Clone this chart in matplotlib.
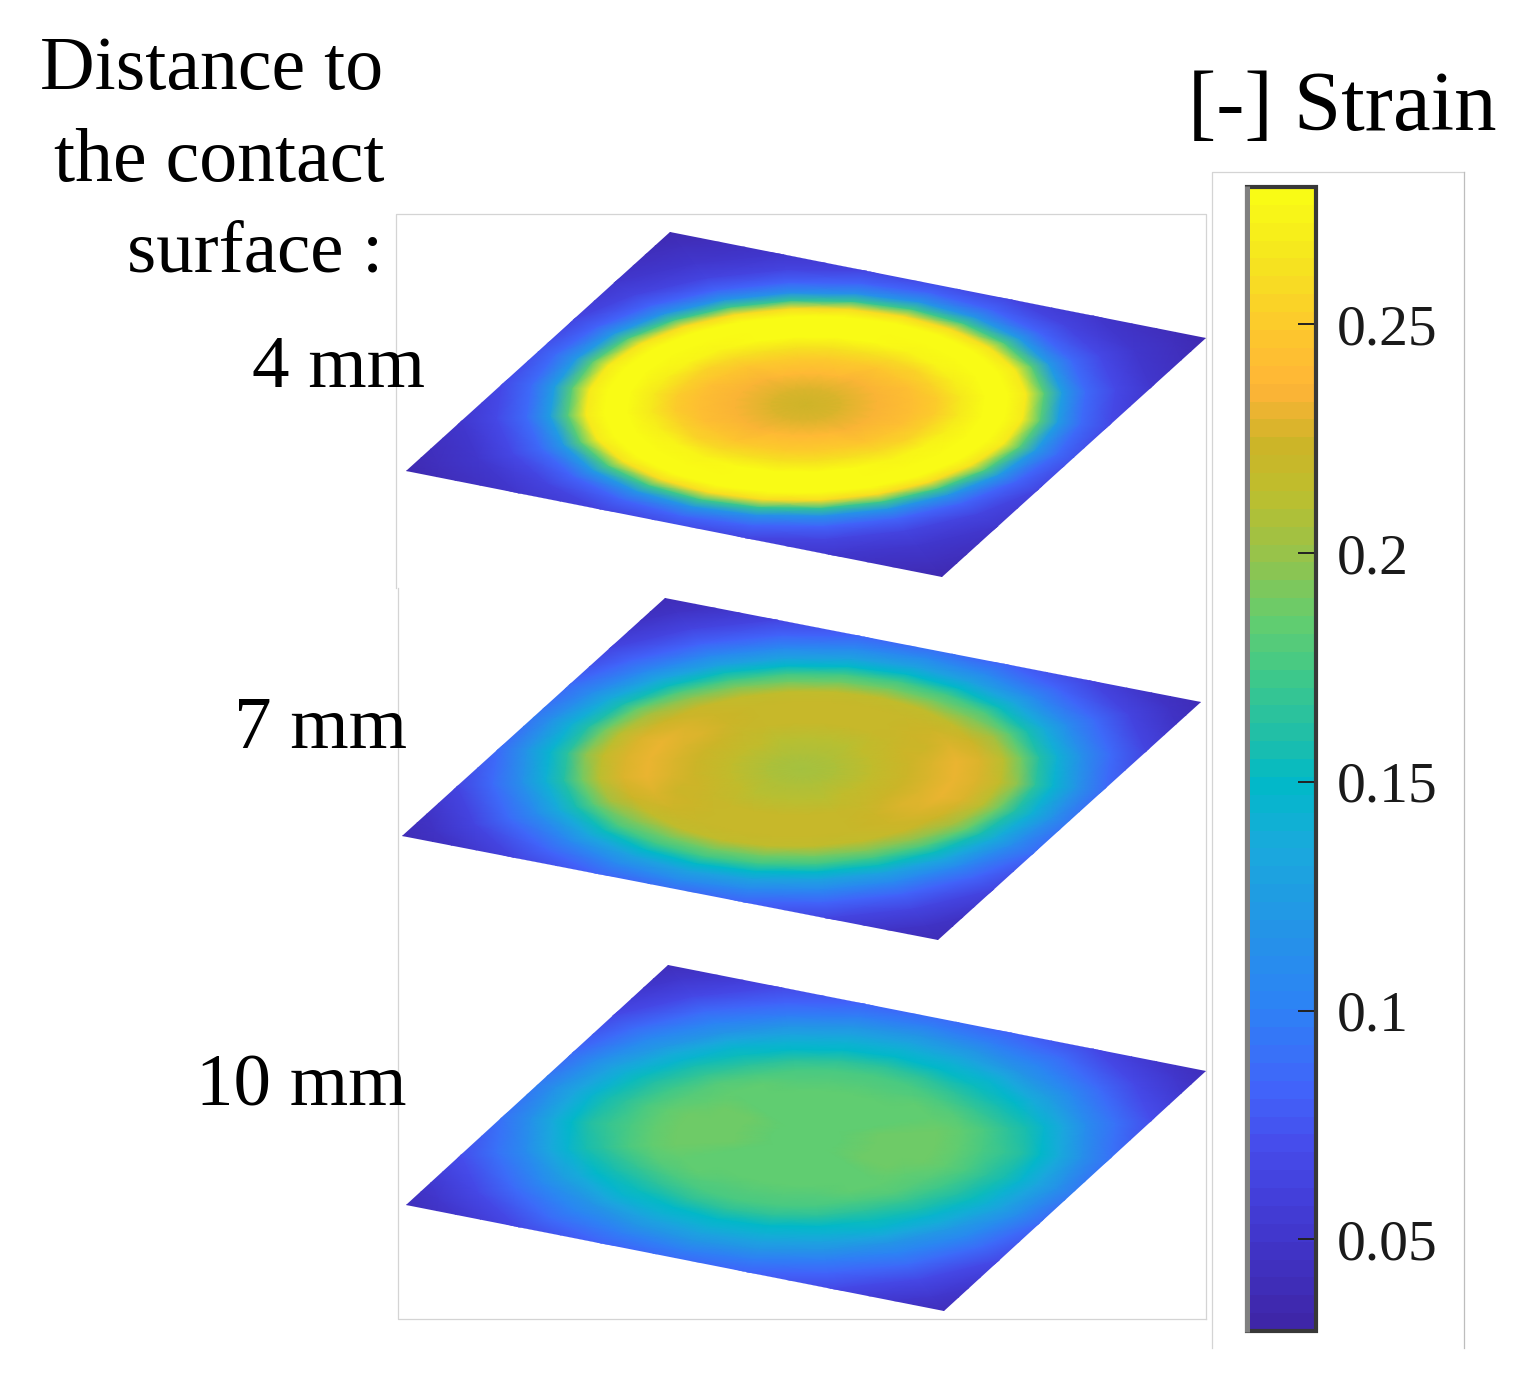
"""Three strain slices in oblique view, shared colour bar."""
import numpy as np
import matplotlib
matplotlib.use("Agg")
import matplotlib.pyplot as plt
from matplotlib.cm import ScalarMappable
from matplotlib.colors import LinearSegmentedColormap, Normalize
from matplotlib.lines import Line2D
from matplotlib.patches import Polygon

plt.rcParams["font.family"] = ["Liberation Serif", "DejaVu Serif"]

# strain: rows = distance from slice centre,
# columns = direction over half a turn (the slices are point symmetric)
RADII = [0, .06, .12, .18, .22, .26, .30, .34, .37, .40, .43, .47, .52, .58, .65, .75]
ANGLES = [-15, 0, 15, 30, 45, 60, 75, 90, 105, 120, 135, 150]

STRAIN_4MM = [
    [.224, .224, .224, .224, .224, .224, .224, .224, .224, .224, .224, .224],
    [.226, .226, .226, .226, .226, .226, .226, .226, .226, .226, .226, .226],
    [.234, .234, .236, .237, .238, .238, .238, .238, .237, .236, .234, .234],
    [.243, .244, .246, .248, .249, .250, .250, .249, .248, .246, .244, .243],
    [.252, .253, .256, .259, .261, .262, .262, .261, .259, .256, .253, .252],
    [.268, .269, .273, .276, .279, .280, .280, .279, .276, .273, .269, .268],
    [.284, .284, .286, .287, .288, .288, .288, .288, .287, .286, .284, .284],
    [.288, .288, .287, .287, .286, .286, .286, .286, .287, .287, .288, .288],
    [.266, .265, .263, .260, .259, .258, .258, .259, .260, .263, .265, .266],
    [.182, .181, .177, .174, .171, .170, .170, .171, .174, .177, .181, .182],
    [.124, .123, .120, .118, .116, .115, .115, .116, .118, .120, .123, .124],
    [.086, .086, .084, .083, .082, .082, .082, .082, .083, .084, .086, .086],
    [.066, .066, .065, .065, .064, .064, .064, .064, .065, .065, .066, .066],
    [.052, .052, .052, .052, .052, .052, .052, .052, .052, .052, .052, .052],
    [.042, .042, .042, .042, .042, .042, .042, .042, .042, .042, .042, .042],
    [.032, .032, .032, .032, .032, .032, .032, .032, .032, .032, .032, .032],
]
STRAIN_7MM = [
    [.205, .205, .205, .205, .205, .205, .205, .205, .205, .205, .205, .205],
    [.208, .208, .208, .207, .207, .207, .207, .207, .207, .207, .208, .208],
    [.216, .216, .215, .214, .213, .213, .213, .213, .213, .214, .215, .216],
    [.224, .223, .222, .220, .218, .218, .218, .218, .218, .219, .222, .223],
    [.229, .228, .226, .223, .221, .221, .221, .221, .221, .222, .225, .228],
    [.231, .230, .227, .224, .221, .221, .221, .221, .221, .222, .226, .230],
    [.229, .228, .223, .218, .215, .215, .215, .215, .215, .217, .222, .228],
    [.216, .212, .205, .196, .191, .190, .190, .190, .190, .194, .203, .212],
    [.195, .190, .183, .177, .173, .172, .172, .172, .172, .175, .181, .190],
    [.165, .162, .158, .154, .152, .151, .151, .151, .151, .153, .157, .162],
    [.144, .141, .137, .134, .131, .130, .130, .130, .130, .132, .136, .141],
    [.117, .115, .112, .108, .106, .105, .105, .105, .105, .107, .111, .115],
    [.088, .087, .085, .083, .082, .082, .082, .082, .082, .083, .085, .087],
    [.066, .065, .064, .063, .062, .062, .062, .062, .062, .062, .064, .065],
    [.049, .049, .048, .047, .047, .047, .047, .047, .047, .047, .048, .049],
    [.035, .035, .035, .035, .035, .035, .035, .035, .035, .035, .035, .035],
]
STRAIN_10MM = [
    [.184, .184, .184, .184, .184, .184, .184, .184, .184, .184, .184, .184],
    [.186, .186, .186, .185, .185, .185, .185, .185, .185, .185, .185, .186],
    [.188, .188, .187, .186, .185, .185, .185, .185, .185, .185, .186, .187],
    [.190, .189, .188, .186, .185, .184, .184, .184, .184, .185, .186, .189],
    [.189, .188, .186, .184, .183, .182, .182, .182, .182, .183, .185, .188],
    [.185, .184, .182, .179, .178, .177, .177, .177, .177, .178, .180, .183],
    [.178, .176, .172, .168, .165, .164, .164, .164, .164, .165, .170, .175],
    [.168, .165, .161, .155, .152, .150, .150, .150, .150, .152, .157, .164],
    [.159, .156, .152, .147, .144, .142, .142, .142, .142, .144, .149, .156],
    [.150, .147, .142, .136, .132, .130, .130, .130, .130, .132, .138, .146],
    [.138, .135, .130, .123, .119, .117, .117, .117, .117, .119, .125, .134],
    [.115, .113, .109, .105, .102, .100, .100, .100, .100, .102, .106, .112],
    [.092, .091, .088, .086, .085, .084, .084, .084, .084, .085, .087, .090],
    [.072, .071, .070, .069, .068, .068, .068, .068, .068, .068, .069, .071],
    [.054, .054, .053, .053, .052, .052, .052, .052, .052, .052, .053, .054],
    [.037, .037, .037, .037, .037, .037, .037, .037, .037, .037, .037, .037],
]

CBAR_TICKS = [0.05, 0.1, 0.15, 0.2, 0.25]
CBAR_LABELS = ["0.05", "0.1", "0.15", "0.2", "0.25"]
VMIN, VMAX = 0.03, 0.28

# colours taken from the bar in the picture, bottom to top
CMAP_STOPS = [0, .08, .154, .208, .28, .356, .423, .48, .517, .57, .624, .68,
              .738, .78, .83, .88, .945, 1]
CMAP_COLORS = ["#3e26a8", "#4137cd", "#464beb", "#4164fa", "#2d82f5", "#2396e6",
               "#19aadc", "#00b9c8", "#1ebeaa", "#3cc88c", "#64cd6e", "#96c34b",
               "#bebe2d", "#cdb428", "#ffb437", "#fdc82d", "#f5e61e", "#f9fb15"]
parula = LinearSegmentedColormap.from_list("parula_ish",
                                           list(zip(CMAP_STOPS, CMAP_COLORS)), N=64)
norm = Normalize(VMIN, VMAX)


def draw_slice(ax, table, top, right, left):
    top, right, left = [np.array(p, float) for p in (top, right, left)]
    centre = (right + left) / 2
    eu, ev = right - top, left - top
    # both half turns, closed
    tab = np.array(table)
    vals = np.hstack([tab, tab, tab[:, :1]])
    th = np.radians(np.r_[ANGLES, np.array(ANGLES) + 180, ANGLES[0] + 360])
    R, T = np.meshgrid(np.array(RADII), th, indexing="ij")
    U, V = R * np.cos(T), R * np.sin(T)
    X = centre[0] + U * eu[0] + V * ev[0]
    Y = centre[1] + U * eu[1] + V * ev[1]
    m = ax.pcolormesh(X, Y, vals, cmap=parula, norm=norm, shading="gouraud",
                      rasterized=True)
    clip = Polygon([top, right, right + ev, left], closed=True,
                   transform=ax.transData, fc="none", ec="none")
    ax.add_patch(clip)
    m.set_clip_path(clip)


fig = plt.figure(figsize=(15.25, 13.74), dpi=100, facecolor="white")
ax = fig.add_axes([0, 0, 1, 1])
ax.set_xlim(0, 1525)
ax.set_ylim(1374, 0)
ax.axis("off")

# thin frames left from the pasted panels
FRAME = "#d4d4d4"
ax.plot([396, 396, 1206, 1206], [588, 214, 214, 1319], color=FRAME, lw=0.9)
ax.plot([398, 398, 1206], [588, 1319, 1319], color=FRAME, lw=0.9)
ax.plot([1212, 1212, 1464], [1348, 172, 172], color=FRAME, lw=0.9)
ax.plot([1464, 1464], [172, 1348], color="#bdbdbd", lw=0.9)

draw_slice(ax, STRAIN_4MM, (670, 232), (1206, 338), (406, 471))
draw_slice(ax, STRAIN_7MM, (665, 598), (1201, 702), (402, 836))
draw_slice(ax, STRAIN_10MM, (668, 965), (1206, 1071), (406, 1205))

ax.text(383, 89, "Distance to", fontsize=54.5, ha="right", va="baseline")
ax.text(385, 181, "the contact", fontsize=54.5, ha="right", va="baseline")
ax.text(383, 271, "surface :", fontsize=54, ha="right", va="baseline")
ax.text(252, 387, "4 mm", fontsize=54, ha="left", va="baseline")
ax.text(234, 748, "7 mm", fontsize=54, ha="left", va="baseline")
ax.text(407, 1106, "10 mm", fontsize=54, ha="right", va="baseline")
ax.text(1188, 130, "[-] Strain", fontsize=61, ha="left", va="baseline")

cax = fig.add_axes([1247 / 1525, 1 - 1331 / 1374, 69 / 1525, 1144 / 1374])
cb = fig.colorbar(ScalarMappable(norm=norm, cmap=parula), cax=cax, ticks=CBAR_TICKS)
cb.set_ticklabels(CBAR_LABELS)
cb.outline.set_edgecolor("#383838")
cb.outline.set_linewidth(3)
cax.tick_params(direction="in", length=13, width=1.4, color="#222222",
                labelsize=41.5, pad=15, labelcolor="#1a1a1a")
# left side of the bar frame is paler
fig.add_artist(Line2D([1247 / 1525] * 2, [1 - 1332 / 1374, 1 - 186 / 1374],
                      color="#808080", lw=3.6, solid_capstyle="butt"))

fig.savefig("out.png", dpi=100)
